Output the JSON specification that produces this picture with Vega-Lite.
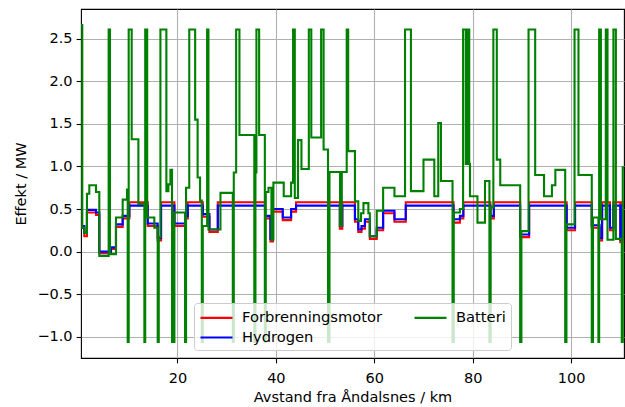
{
  "$schema": "https://vega.github.io/schema/vega-lite/v6.json",
  "width": 543,
  "height": 349,
  "autosize": {"type": "none"},
  "padding": {"left": 81, "top": 9, "right": 1, "bottom": 49},
  "background": "white",
  "config": {
    "view": {"stroke": "black", "strokeWidth": 1.1},
    "font": "DejaVu Sans",
    "axis": {
      "grid": true, "gridColor": "#b0b0b0", "gridWidth": 1.1, "domain": false,
      "tickColor": "black", "tickSize": 4.9, "tickWidth": 1.1,
      "labelFont": "DejaVu Sans", "labelFontSize": 14.5, "labelColor": "black", "labelPadding": 4,
      "titleFont": "DejaVu Sans", "titleFontSize": 14.5, "titleFontWeight": "normal", "titleColor": "black"
    }
  },
  "datasets": {
    "g": [
      [0.4,2.66],[0.66,0.28],[1.07,0.22],[1.61,0.68],[2.09,0.78],[3.45,0.70],[4.12,-0.05],[6.02,2.61],[6.29,-0.03],[7.51,0.40],[8.87,0.61],[9.75,0.73],[9.89,-1.06],[10.09,2.61],[10.70,1.32],[12.06,0.56],[13.28,-1.06],[13.45,2.61],[13.85,0.40],[15.30,0.28],[15.99,-1.06],[16.2,0.17],[16.54,2.61],[17.75,0.71],[18.16,0.79],[18.57,0.96],[18.9,-1.06],[19.05,0.35],[19.2,-1.06],[19.38,0.46],[21.55,-1.06],[21.75,0.75],[22.4,2.61],[23.6,1.55],[24.1,0.87],[24.6,0.60],[24.95,-1.06],[25.15,0.30],[26.03,2.61],[26.3,0.26],[28.74,0.69],[31.25,-1.06],[31.45,0.93],[31.93,2.61],[32.6,1.37],[35.62,-1.06],[35.85,0.93],[36.05,2.61],[36.6,1.37],[37.76,-1.06],[37.95,0.70],[38.5,0.75],[39.1,0.14],[39.5,0.81],[41.6,0.65],[43.1,0.81],[43.5,2.61],[43.85,0.63],[44.5,1.31],[45.2,0.97],[46.7,2.61],[47.2,1.34],[49.2,2.61],[49.7,1.20],[50.6,-1.06],[50.9,0.935],[53.05,0.30],[53.4,0.935],[54.4,2.61],[54.7,1.18],[56.07,0.59],[56.75,0.36],[57.3,0.45],[57.8,0.57],[58.8,0.45],[59.1,0.18],[60.5,0.48],[61.8,0.75],[64.1,0.65],[66.25,2.61],[67.45,0.71],[70.0,1.08],[72.2,0.65],[73.0,1.51],[73.55,0.83],[75.9,-1.06],[76.15,0.46],[77.4,0.50],[78.05,2.61],[78.6,1.03],[78.75,2.61],[79.0,1.03],[79.15,2.61],[79.3,1.03],[79.45,0.65],[80.97,0.34],[82.5,0.83],[83.4,-1.06],[83.65,0.52],[84.2,2.61],[84.9,1.08],[85.6,0.78],[89.65,-1.06],[89.9,0.24],[91.35,2.61],[92.7,0.90],[94.5,0.65],[96.1,0.78],[96.8,0.96],[98.8,-1.06],[99.05,0.32],[100.7,2.61],[101.5,0.90],[104.2,-1.06],[104.45,0.40],[105.55,-1.06],[105.7,2.61],[106.05,0.38],[107.05,2.61],[107.4,0.14],[108.6,2.61],[109.1,0.15],[110.3,-1.06],[110.5,0.99],[110.75,0.99]
    ],
    "b": [
      [0.4,0.30],[1.07,0.22],[1.61,0.49],[3.45,0.46],[4.12,0.0],[6.5,0.05],[7.51,0.32],[8.87,0.42],[10.23,0.54],[13.96,0.33],[15.99,0.16],[16.67,0.54],[19.38,0.33],[21.55,0.42],[22.1,0.54],[25.15,0.44],[26.5,0.26],[28.2,0.54],[37.8,0.42],[38.9,0.15],[39.4,0.50],[41.4,0.40],[43.1,0.50],[44.1,0.54],[53.0,0.30],[53.5,0.54],[56.07,0.38],[56.75,0.26],[57.4,0.30],[58.1,0.38],[59.1,0.18],[60.5,0.28],[61.8,0.48],[64.1,0.38],[66.4,0.54],[76.1,0.38],[77.4,0.42],[78.1,0.54],[83.6,0.42],[84.3,0.54],[89.64,0.20],[91.47,0.54],[99.1,0.28],[100.8,0.54],[104.2,0.31],[105.8,0.16],[106.3,0.54],[107.9,0.28],[108.6,0.54],[110.0,0.14],[110.4,0.54],[110.75,0.54]
    ],
    "r": [
      [0.4,0.28],[1.07,0.18],[1.61,0.46],[3.45,0.43],[4.12,-0.02],[6.5,0.03],[7.51,0.29],[8.87,0.39],[10.23,0.58],[13.96,0.30],[15.99,0.13],[16.67,0.58],[19.38,0.30],[21.55,0.39],[22.1,0.58],[25.15,0.41],[26.5,0.23],[28.2,0.58],[37.8,0.39],[38.9,0.12],[39.4,0.47],[41.4,0.37],[43.1,0.47],[44.1,0.58],[53.0,0.27],[53.5,0.58],[56.07,0.35],[56.75,0.23],[57.4,0.27],[58.1,0.35],[59.1,0.15],[60.5,0.25],[61.8,0.45],[64.1,0.35],[66.4,0.58],[76.1,0.34],[77.4,0.39],[78.1,0.58],[83.6,0.39],[84.3,0.58],[89.64,0.17],[91.47,0.58],[99.1,0.25],[100.8,0.58],[104.2,0.28],[105.8,0.13],[106.3,0.58],[107.9,0.25],[108.6,0.58],[110.0,0.11],[110.4,0.58],[110.75,0.58]
    ]
  },
  "encoding": {
    "x": {"field": "x", "type": "quantitative",
      "scale": {"domain": [0.4, 110.75], "nice": false, "zero": false},
      "axis": {"values": [20, 40, 60, 80, 100], "title": "Avstand fra Åndalsnes / km", "labelFlush": false, "labelPadding": 9, "titlePadding": 5}},
    "y": {"field": "v", "type": "quantitative",
      "scale": {"domain": [-1.25, 2.85], "nice": false, "zero": false},
      "axis": {"values": [-1, -0.5, 0, 0.5, 1, 1.5, 2, 2.5], "format": ".1f", "title": "Effekt / MW", "titlePadding": 8}},
    "color": {"field": "s", "type": "nominal",
      "scale": {"domain": ["Forbrenningsmotor", "Hydrogen", "Batteri"], "range": ["#ff0000", "#0000ff", "#008000"]},
      "legend": {"orient": "none", "legendX": 113, "legendY": 294, "columns": 2, "title": null,
        "symbolType": "M-2,0H2", "symbolStrokeWidth": 2.1, "symbolSize": 256, "symbolOffset": 8,
        "labelFont": "DejaVu Sans", "labelFontSize": 14.7, "labelColor": "black", "labelOffset": 16,
        "fillColor": "rgba(255,255,255,0.8)", "strokeColor": "#cccccc", "cornerRadius": 3,
        "padding": 5, "columnPadding": 27, "rowPadding": 3}}
  },
  "layer": [
    {"data": {"name": "r"}, "transform": [{"calculate": "datum[0]", "as": "x"}, {"calculate": "datum[1]", "as": "v"}, {"calculate": "'Forbrenningsmotor'", "as": "s"}],
     "mark": {"type": "line", "interpolate": "step-after", "strokeWidth": 2.1, "clip": true}},
    {"data": {"name": "b"}, "transform": [{"calculate": "datum[0]", "as": "x"}, {"calculate": "datum[1]", "as": "v"}, {"calculate": "'Hydrogen'", "as": "s"}],
     "mark": {"type": "line", "interpolate": "step-after", "strokeWidth": 2.1, "clip": true}},
    {"data": {"name": "g"}, "transform": [{"calculate": "datum[0]", "as": "x"}, {"calculate": "datum[1]", "as": "v"}, {"calculate": "'Batteri'", "as": "s"}],
     "mark": {"type": "line", "interpolate": "step-after", "strokeWidth": 2.1, "clip": true}}
  ]
}
